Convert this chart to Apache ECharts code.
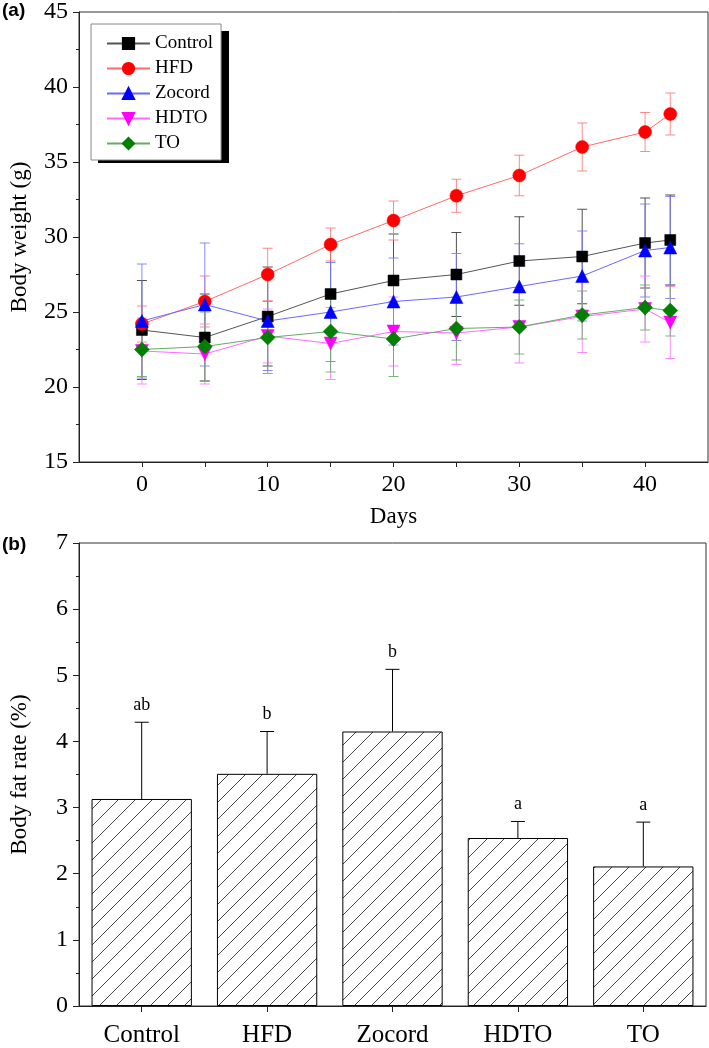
<!DOCTYPE html>
<html><head><meta charset="utf-8">
<script src="https://cdn.jsdelivr.net/npm/echarts@6/dist/echarts.min.js"></script>
<style>html,body{margin:0;padding:0;background:#fff}#c{width:709px;height:1048px}</style>
</head><body><div id="c"></div>
<script>
// ---------- data ----------
const days = [0, 5, 10, 15, 20, 25, 30, 35, 40, 42];
const groupNames = ['Control', 'HFD', 'Zocord', 'HDTO', 'TO'];
const controlMean = [23.8, 23.3, 24.7, 26.2, 27.1, 27.5, 28.4, 28.7, 29.6, 29.8];
const controlSd   = [3.3, 2.9, 3.3, 3.1, 3.1, 2.8, 2.95, 3.15, 3.0, 3.0];
const hfdMean     = [24.2, 25.7, 27.5, 29.5, 31.1, 32.75, 34.1, 36.0, 37.0, 38.2];
const hfdSd       = [1.2, 1.7, 1.75, 1.1, 1.3, 1.1, 1.35, 1.6, 1.3, 1.4];
const zocordMean  = [24.4, 25.5, 24.4, 25.0, 25.7, 26.0, 26.7, 27.4, 29.1, 29.3];
const zocordSd    = [3.8, 4.1, 3.3, 3.3, 2.9, 2.9, 2.85, 3.0, 3.1, 3.4];
const hdtoMean    = [22.4, 22.2, 23.4, 22.9, 23.7, 23.6, 24.0, 24.7, 25.2, 24.3];
const hdtoSd      = [2.2, 2.0, 1.8, 2.4, 2.3, 2.1, 2.4, 2.4, 2.2, 2.4];
const toMean      = [22.5, 22.7, 23.3, 23.7, 23.2, 23.9, 24.0, 24.8, 25.3, 25.1];
const toSd        = [1.8, 2.3, 2.4, 2.7, 2.5, 2.1, 1.8, 1.6, 1.5, 1.7];
const dayTickLabels = [0, 10, 20, 30, 40];
const dayTicks = [0, 5, 10, 15, 20, 25, 30, 35, 40];

const barCategories = ['Control', 'HFD', 'Zocord', 'HDTO', 'TO'];
const fatRate   = [3.13, 3.51, 4.15, 2.54, 2.11];
const fatRateSd = [1.16, 0.64, 0.94, 0.25, 0.67];
const fatLetters = ['ab', 'b', 'b', 'a', 'a'];

// ---------- styles ----------
const SERIF = '"Liberation Serif", "Times New Roman", serif';
const styleDefs = [
  {mean: controlMean, sd: controlSd, marker: '#000000', line: '#555555', err: '#333333', symbol: 'rect', size: 11, rot: 0},
  {mean: hfdMean, sd: hfdSd, marker: '#ff0000', line: '#ff6a6a', err: '#ff7777', symbol: 'circle', size: 13, rot: 0},
  {mean: zocordMean, sd: zocordSd, marker: '#0000ff', line: '#6a6aff', err: '#7777ff', symbol: 'triangle', size: 13, rot: 0},
  {mean: hdtoMean, sd: hdtoSd, marker: '#ff00ff', line: '#ff6aff', err: '#ff77ff', symbol: 'triangle', size: 13, rot: 180},
  {mean: toMean, sd: toSd, marker: '#007f00', line: '#66aa66', err: '#66aa66', symbol: 'diamond', size: 15, rot: 0}
];

function errRender(color, half) {
  return function (params, api) {
    const x = api.value(0), lo = api.value(1), hi = api.value(2);
    const p1 = api.coord([x, lo]), p2 = api.coord([x, hi]);
    const st = {stroke: color, lineWidth: 1, opacity: 0.85};
    return {type: 'group', children: [
      {type: 'line', shape: {x1: p1[0], y1: p1[1], x2: p2[0], y2: p2[1]}, style: st},
      {type: 'line', shape: {x1: p1[0] - half, y1: p1[1], x2: p1[0] + half, y2: p1[1]}, style: st},
      {type: 'line', shape: {x1: p2[0] - half, y1: p2[1], x2: p2[0] + half, y2: p2[1]}, style: st}
    ]};
  };
}

// hatch pattern
function makeHatch() {
  const s = 17;
  const cv = document.createElement('canvas');
  cv.width = s; cv.height = s;
  const ctx = cv.getContext('2d');
  ctx.fillStyle = '#ffffff';
  ctx.fillRect(0, 0, s, s);
  ctx.strokeStyle = '#333333';
  ctx.lineWidth = 0.9;
  ctx.beginPath();
  ctx.moveTo(-1, s + 1); ctx.lineTo(s + 1, -1);
  ctx.moveTo(-2, 1); ctx.lineTo(1, -2);
  ctx.moveTo(s - 1, s + 2); ctx.lineTo(s + 2, s - 1);
  ctx.stroke();
  return cv;
}

const series = [];
styleDefs.forEach((d, i) => {
  series.push({
    type: 'custom', xAxisIndex: 0, yAxisIndex: 0, z: 1, silent: true,
    renderItem: errRender(d.err, 5),
    encode: {x: 0, y: [1, 2]},
    data: days.map((dd, k) => [dd, d.mean[k] - d.sd[k], d.mean[k] + d.sd[k]])
  });
});
styleDefs.forEach((d, i) => {
  series.push({
    name: groupNames[i], type: 'line', xAxisIndex: 0, yAxisIndex: 0, z: 3,
    symbol: d.symbol, symbolSize: d.size, symbolRotate: d.rot,
    lineStyle: {color: d.line, width: 1},
    itemStyle: {color: d.marker, borderColor: d.marker, borderWidth: 0.5},
    data: days.map((dd, k) => [dd, d.mean[k]]),
    animation: false
  });
});
series.push({
  type: 'bar', xAxisIndex: 1, yAxisIndex: 1, barWidth: '80%',
  itemStyle: {color: {image: makeHatch(), repeat: 'repeat'}, borderColor: '#000', borderWidth: 1},
  data: fatRate, z: 2
});
series.push({
  type: 'custom', xAxisIndex: 1, yAxisIndex: 1, z: 3, silent: true,
  encode: {x: 0, y: [1, 2]},
  data: fatRate.map((v, i) => [i, v, v + fatRateSd[i], fatLetters[i]]),
  renderItem: function (params, api) {
    const i = api.value(0);
    const p1 = api.coord([i, api.value(1)]), p2 = api.coord([i, api.value(2)]);
    const st = {stroke: '#000', lineWidth: 1};
    return {type: 'group', children: [
      {type: 'line', shape: {x1: p1[0], y1: p1[1], x2: p2[0], y2: p2[1]}, style: st},
      {type: 'line', shape: {x1: p2[0] - 7, y1: p2[1], x2: p2[0] + 7, y2: p2[1]}, style: st},
      {type: 'text', style: {text: fatLetters[params.dataIndex], x: p2[0], y: p2[1] - 17,
        align: 'center', verticalAlign: 'middle', fill: '#000', font: '18px ' + SERIF}}
    ]};
  }
});

const axisLineStyle = {color: '#222', width: 1};
const option = {
  animation: false,
  backgroundColor: '#fff',
  textStyle: {fontFamily: SERIF},
  grid: [
    {left: 74, top: 9, width: 634, height: 453, show: true, borderColor: '#333', borderWidth: 1, backgroundColor: 'transparent'},
    {left: 74, top: 543, width: 632, height: 465, show: true, borderColor: '#333', borderWidth: 1, backgroundColor: 'transparent'}
  ],
  graphic: [
    {type: 'rect', left: 98, top: 31, shape: {width: 131, height: 132}, style: {fill: '#000'}, z: 0},
    {type: 'text', left: 2, top: 1, style: {text: '(a)', font: 'bold 19px "Liberation Sans", Arial, sans-serif', fill: '#000'}},
    {type: 'text', left: 2, top: 535, style: {text: '(b)', font: 'bold 19px "Liberation Sans", Arial, sans-serif', fill: '#000'}}
  ],
  legend: {
    data: groupNames, orient: 'vertical', left: 91, top: 24,
    padding: [10, 8, 7, 15], itemGap: 6, itemWidth: 43, itemHeight: 14,
    backgroundColor: '#fff', borderColor: '#888', borderWidth: 1, z: 5,
    textStyle: {fontFamily: SERIF, fontSize: 19, color: '#000', lineHeight: 18}
  },
  xAxis: [
    {gridIndex: 0, type: 'value', min: -5, max: 45,
     name: 'Days', nameLocation: 'middle', nameGap: 43,
     nameTextStyle: {fontFamily: SERIF, fontSize: 23, color: '#000'},
     axisLine: {show: true, onZero: false, lineStyle: axisLineStyle},
     axisTick: {show: true, inside: false, length: 5, customValues: dayTicks, lineStyle: axisLineStyle},
     axisLabel: {customValues: dayTickLabels, fontFamily: SERIF, fontSize: 24, color: '#000', margin: 11},
     splitLine: {show: false}},
    {gridIndex: 1, type: 'category', data: barCategories,
     axisLine: {show: true, onZero: false, lineStyle: axisLineStyle},
     axisTick: {show: true, alignWithLabel: true, length: 6, lineStyle: axisLineStyle},
     axisLabel: {fontFamily: SERIF, fontSize: 25, color: '#000', margin: 17},
     splitLine: {show: false}}
  ],
  yAxis: [
    {gridIndex: 0, type: 'value', min: 15, max: 45, interval: 5,
     name: 'Body weight (g)', nameLocation: 'middle', nameGap: 48, nameRotate: 90,
     nameTextStyle: {fontFamily: SERIF, fontSize: 23, color: '#000'},
     axisLine: {show: true, onZero: false, lineStyle: axisLineStyle},
     axisTick: {show: true, length: 6, lineStyle: axisLineStyle},
     minorTick: {show: true, splitNumber: 2, length: 3, lineStyle: {color: '#222'}},
     axisLabel: {fontFamily: SERIF, fontSize: 24, color: '#000', margin: 11},
     splitLine: {show: false}},
    {gridIndex: 1, type: 'value', min: 0, max: 7, interval: 1,
     name: 'Body fat rate (%)', nameLocation: 'middle', nameGap: 48, nameRotate: 90,
     nameTextStyle: {fontFamily: SERIF, fontSize: 23, color: '#000'},
     axisLine: {show: true, onZero: false, lineStyle: axisLineStyle},
     axisTick: {show: true, length: 6, lineStyle: axisLineStyle},
     minorTick: {show: true, splitNumber: 2, length: 3, lineStyle: {color: '#222'}},
     axisLabel: {fontFamily: SERIF, fontSize: 24, color: '#000', margin: 11},
     splitLine: {show: false}}
  ],
  series: series
};
const chart = echarts.init(document.getElementById('c'), null, {renderer: 'canvas'});
chart.setOption(option);
</script></body></html>
